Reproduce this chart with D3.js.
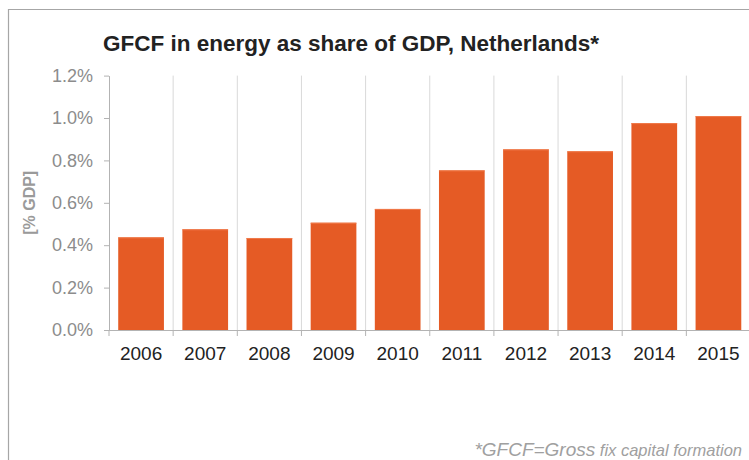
<!DOCTYPE html>
<html>
<head>
<meta charset="utf-8">
<script src="https://cdn.jsdelivr.net/npm/d3@7"></script>
<style>
  html, body { margin: 0; padding: 0; background: #fff; }
  svg { display: block; }
  text { font-family: "Liberation Sans", Arial, Helvetica, sans-serif; }
</style>
</head>
<body>
<svg id="chart" width="749" height="460"></svg>
<script>
// ---- data ----
const years = ["2006","2007","2008","2009","2010","2011","2012","2013","2014","2015"];
const values = [0.437, 0.475, 0.434, 0.506, 0.571, 0.753, 0.852, 0.843, 0.976, 1.009];
const yTicks = [0, 0.2, 0.4, 0.6, 0.8, 1.0, 1.2];
const titleText = "GFCF in energy as share of GDP, Netherlands*";
const yAxisTitle = "[% GDP]";
const footnoteA = "*GFCF=Gross";
const footnoteB = " fix capital formation";

(function () {
const svg = d3.select("#chart");

const pLeft = 109, pRight = 750.5, pTop = 75.6, pBottom = 330;

const x = d3.scaleBand().domain(years).range([pLeft, pRight])
  .paddingInner(0.2875).paddingOuter(0.14375);
const y = d3.scaleLinear().domain([0, 1.2]).range([pBottom, pTop]);

// frame
svg.append("path")
  .attr("d", `M8.5,460 L8.5,9.5 L749,9.5`)
  .attr("fill", "none").attr("stroke", "#a6a6a6").attr("stroke-width", 1.2);

// title
svg.append("text")
  .attr("x", 103).attr("y", 50.5)
  .attr("font-size", 22.5).attr("font-weight", "bold").attr("fill", "#222")
  .text(titleText);

// vertical gridlines at category boundaries
const step = x.step();
const bounds = years.map((d, i) => pLeft + (i + 1) * step);
svg.append("g").selectAll("line").data(bounds).join("line")
  .attr("x1", d => d).attr("x2", d => d)
  .attr("y1", y(1.2)).attr("y2", pBottom)
  .attr("stroke", "#d9d9d9").attr("stroke-width", 1);

// bars
svg.append("g").selectAll("rect").data(years).join("rect")
  .attr("x", d => x(d))
  .attr("y", (d, i) => y(values[i]))
  .attr("width", x.bandwidth())
  .attr("height", (d, i) => pBottom - y(values[i]))
  .attr("fill", "#e55b25");

// bar top highlight
svg.append("g").selectAll("line").data(years).join("line")
  .attr("x1", d => x(d)).attr("x2", d => x(d) + x.bandwidth())
  .attr("y1", (d, i) => y(values[i]) + 0.5).attr("y2", (d, i) => y(values[i]) + 0.5)
  .attr("stroke", "#f07a4a").attr("stroke-width", 1);

// y axis
const yAxis = d3.axisLeft(y).tickValues(yTicks)
  .tickFormat(d => d.toFixed(1) + "%")
  .tickSizeInner(5).tickSizeOuter(0).tickPadding(11);
const gy = svg.append("g").attr("transform", `translate(${pLeft},0)`).call(yAxis);
gy.select(".domain").attr("stroke", "#b3b3b3");
gy.selectAll(".tick line").attr("stroke", "#b3b3b3");
gy.selectAll(".tick text").attr("fill", "#8c8c8c").attr("font-size", 18)
  .attr("font-family", "Liberation Sans, Arial, sans-serif");

// x axis
const xAxis = d3.axisBottom(x).tickSize(0).tickPadding(17);
const gx = svg.append("g").attr("transform", `translate(0,${pBottom})`).call(xAxis);
gx.select(".domain").remove();
gx.selectAll(".tick text").attr("fill", "#222").attr("font-size", 19)
  .attr("font-family", "Liberation Sans, Arial, sans-serif");
svg.append("line")
  .attr("x1", pLeft).attr("x2", 749).attr("y1", pBottom + 0.5).attr("y2", pBottom + 0.5)
  .attr("stroke", "#b3b3b3").attr("stroke-width", 1.2);
svg.append("g").selectAll("line").data([pLeft].concat(bounds)).join("line")
  .attr("x1", d => d).attr("x2", d => d)
  .attr("y1", pBottom).attr("y2", pBottom + 6)
  .attr("stroke", "#b3b3b3");

// y axis title
svg.append("text")
  .attr("transform", `translate(35,${(pTop + pBottom) / 2}) rotate(-90)`)
  .attr("text-anchor", "middle")
  .attr("font-size", 16).attr("font-weight", "bold").attr("fill", "#9a9a9a")
  .text(yAxisTitle);

// footnote
const fn = svg.append("text")
  .attr("x", 742).attr("y", 456).attr("text-anchor", "end")
  .attr("font-style", "italic").attr("fill", "#a0a0a0");
fn.append("tspan").attr("font-size", 19).text(footnoteA);
fn.append("tspan").attr("font-size", 16.5).text(footnoteB);
})();
</script>
</body>
</html>
